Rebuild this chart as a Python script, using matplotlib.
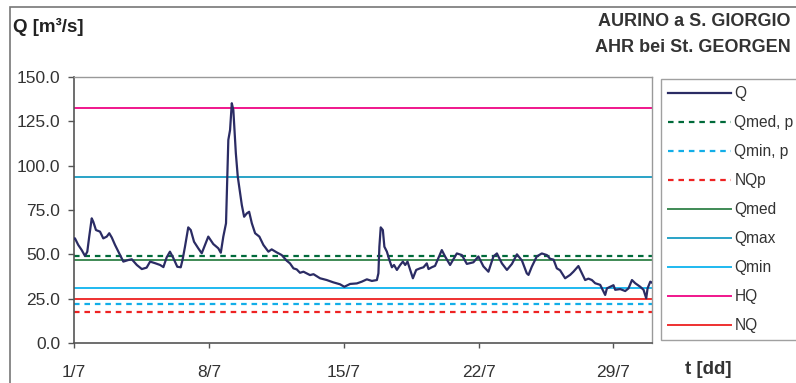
import numpy as np
import matplotlib
matplotlib.use('Agg')
import matplotlib.pyplot as plt
from matplotlib.patches import Rectangle

plt.rcParams['font.family'] = ['Liberation Sans', 'DejaVu Sans']

# discharge Q, days after 1/7 and m3/s
q_day = [0.00, 0.05, 0.22, 0.40, 0.57, 0.69, 0.79, 0.92, 1.00, 1.14, 1.35, 1.52, 1.70, 1.83, 1.96,
         2.13, 2.39, 2.56, 2.82, 3.00, 3.26, 3.52, 3.77, 3.95, 4.21, 4.47, 4.64, 4.81, 4.98, 5.16,
         5.36, 5.54, 5.64, 5.76, 5.93, 6.06, 6.23, 6.45, 6.63, 6.80, 6.97, 7.23, 7.49, 7.62, 7.75,
         7.89, 7.96, 8.01, 8.10, 8.19, 8.27, 8.32, 8.40, 8.50, 8.62, 8.71, 8.83, 8.97, 9.09, 9.23,
         9.40, 9.62, 9.83, 10.09, 10.26, 10.52, 10.78, 11.04, 11.21, 11.39, 11.56, 11.73, 11.91,
         12.25, 12.43, 12.77, 13.12, 13.46, 13.81, 14.03, 14.33, 14.68, 14.94, 15.20, 15.46, 15.72,
         15.80, 15.85, 15.92, 16.03, 16.11, 16.24, 16.37, 16.50, 16.61, 16.76, 16.93, 17.07, 17.19,
         17.31, 17.45, 17.59, 17.76, 17.96, 18.14, 18.31, 18.40, 18.57, 18.74, 18.91, 19.09, 19.26,
         19.52, 19.87, 20.13, 20.39, 20.73, 20.99, 21.25, 21.51, 21.77, 21.95, 22.21, 22.47, 22.73,
         22.99, 23.25, 23.50, 23.59, 23.76, 24.02, 24.28, 24.54, 24.71, 24.89, 25.06, 25.23, 25.49,
         25.75, 25.92, 26.18, 26.36, 26.53, 26.70, 26.88, 27.05, 27.31, 27.57, 27.66, 27.83, 28.00,
         28.09, 28.35, 28.61, 28.78, 28.96, 29.13, 29.39, 29.56, 29.70, 29.77, 29.91, 30.00]
q_val = [59.0, 59.0, 55.3, 52.4, 49.1, 51.5, 60.0, 70.3, 68.4, 63.7, 62.8, 59.0, 60.0, 61.9, 59.5,
         55.3, 49.6, 45.9, 46.8, 47.2, 44.0, 41.7, 42.5, 45.9, 45.0, 44.0, 42.8, 48.3, 51.5, 47.8,
         43.0, 42.7, 47.2, 54.3, 65.2, 63.7, 57.1, 53.4, 50.6, 55.3, 60.0, 55.8, 53.4, 50.9, 60.0,
         67.5, 95.7, 114.5, 120.1, 135.2, 131.4, 122.0, 107.0, 93.8, 84.4, 77.8, 71.2, 73.1, 74.0, 67.5,
         61.9, 60.0, 55.3, 51.5, 52.8, 51.1, 49.6, 46.4, 44.9, 42.1, 41.5, 39.6, 40.2,
         38.3, 38.8, 36.5, 35.5, 34.2, 33.1, 31.7, 33.3, 33.6, 34.6, 35.9, 35.0, 35.5,
         39.3, 54.3, 65.2, 63.7, 54.3, 51.5, 46.8, 42.7, 44.0, 41.2, 44.0, 45.9, 44.0,
         45.9, 41.2, 36.5, 41.2, 42.1, 42.7, 44.9, 41.7, 42.7, 43.5, 47.8, 52.4, 48.8,
         44.0, 50.5, 49.6, 44.6, 45.5, 48.8, 43.2, 40.2, 48.8, 50.5, 44.9, 41.2, 44.6,
         50.0, 46.5, 39.3, 38.4, 43.0, 48.8, 50.5, 49.6, 47.5, 47.0, 42.1, 41.0, 36.5,
         38.4, 40.2, 43.4, 39.3, 35.5, 36.3, 35.5, 33.7, 32.8, 27.1, 30.8, 31.7, 32.6,
         30.0, 30.4, 29.3, 30.8, 35.5, 33.7, 31.7, 30.0, 25.2, 30.8, 34.6, 34.0]

# reference levels (m3/s)
ref_names = ['Qmed, p', 'Qmin, p', 'NQp', 'Qmed', 'Qmax', 'Qmin', 'HQ', 'NQ']
ref_vals = [49.2, 21.8, 17.7, 46.6, 93.8, 30.8, 132.3, 24.8]
ref_colors = ['#006a3a', '#12aee8', '#ee2222', '#3f8a55', '#29a3c7', '#1eb9f0', '#f0168c', '#ee3030']
ref_dashed = [True, True, True, False, False, False, False, False]

tick_days = [0, 7, 14, 21, 28]
tick_labels = ['1/7', '8/7', '15/7', '22/7', '29/7']

fig = plt.figure(figsize=(7.96, 3.83), dpi=100)
ax = fig.add_axes([74/796, 1-343/383, 578/796, 266/383])

ax.plot(q_day, q_val, color='#2b2c64', lw=1.6, label='Q', zorder=5)
for name, v, c, d in zip(ref_names, ref_vals, ref_colors, ref_dashed):
    if d:
        ax.axhline(v, color=c, lw=1.6, ls=(0, (2.5, 2.2)), label=name)
    else:
        ax.axhline(v, color=c, lw=1.4, label=name)

ax.set_xlim(0, 30)
ax.set_ylim(0, 150)
ax.set_yticks(np.arange(0, 151, 25))
ax.set_yticklabels(['%.1f' % v for v in np.arange(0, 151, 25)])
ax.set_xticks(tick_days)
ax.set_xticklabels(tick_labels)
ax.tick_params(axis='y', direction='out', length=4, width=1, color='#555555', labelsize=12.5,
               labelcolor='#333333', pad=6)
ax.tick_params(axis='x', direction='out', length=3.5, width=1, color='#555555', labelsize=12.5,
               labelcolor='#333333', pad=12)
for s in ['left', 'bottom']:
    ax.spines[s].set_color('#555555')
    ax.spines[s].set_linewidth(1.2)
for s in ['top', 'right']:
    ax.spines[s].set_color('#999999')
    ax.spines[s].set_linewidth(1.0)

leg = ax.legend(loc='upper left', bbox_to_anchor=(660.5/796, 1-79/383), bbox_transform=fig.transFigure,
                fontsize=11.2, labelspacing=0.9, handlelength=4.1, handletextpad=0.2,
                borderpad=0.45, borderaxespad=0, fancybox=False, frameon=True)
leg.get_frame().set_edgecolor('#888888')
leg.get_frame().set_linewidth(1.0)
for t in leg.get_texts():
    t.set_color('#333333')

# outer frame of the chart
fig.patches.append(Rectangle((10/796, -0.1), 1.0, 1-7/383+0.1, transform=fig.transFigure,
                             fill=False, edgecolor='#777777', lw=1.2))

fig.text(13/796, 1-27/383, 'Q [m³/s]', fontsize=13.5, fontweight='bold', color='#222222',
         va='center', ha='left')
fig.text(791/796, 1-22/383, 'AURINO a S. GIORGIO', fontsize=13, fontweight='bold',
         color='#333333', va='center', ha='right')
fig.text(791/796, 1-48/383, 'AHR bei St. GEORGEN', fontsize=13, fontweight='bold',
         color='#333333', va='center', ha='right')
fig.text(685/796, 1-370/383, 't [dd]', fontsize=13.5, fontweight='bold', color='#333333',
         va='center', ha='left')

plt.savefig('out.png', dpi=100)
